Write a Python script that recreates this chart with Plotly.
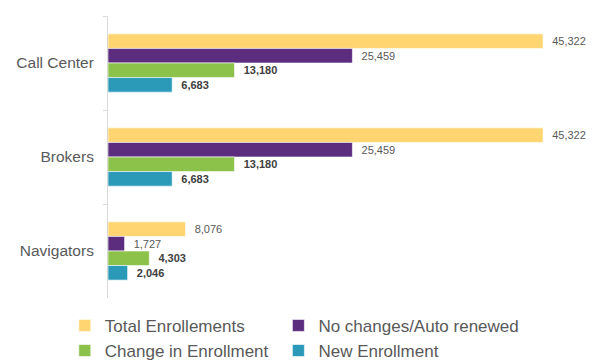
import plotly.graph_objects as go

# ── Data ─────────────────────────────────────────────
channels = ["Call Center", "Brokers", "Navigators"]
total_enrollments = [45322, 45322, 8076]
no_changes = [25459, 25459, 1727]
change_in_enrollment = [13180, 13180, 4303]
new_enrollment = [6683, 6683, 2046]

# name, values, colour, bold label, which legend column
series = [
    ("Total Enrollements", total_enrollments, "#FFD571", False, "legend"),
    ("No changes/Auto renewed", no_changes, "#5C2D7F", False, "legend2"),
    ("Change in Enrollment", change_in_enrollment, "#8CC24A", True, "legend"),
    ("New Enrollment", new_enrollment, "#2A9AB8", True, "legend2"),
]

fig = go.Figure()
for name, vals, color, bold, leg in series:
    if bold:
        labels = [f"  <b>{v:,}</b>" for v in vals]
        tcolor = "#404040"
    else:
        labels = [f"  {v:,}" for v in vals]
        tcolor = "#595959"
    fig.add_trace(go.Bar(
        name=name,
        y=channels,
        x=vals,
        orientation="h",
        marker=dict(color=color, line=dict(color="white", width=0.6)),
        text=labels,
        textposition="outside",
        textfont=dict(size=11, color=tcolor, family="Liberation Sans, Arial"),
        cliponaxis=False,
        hoverinfo="skip",
        legend=leg,
    ))

legend_style = dict(
    orientation="v",
    xanchor="left",
    y=-0.035,
    yanchor="top",
    itemwidth=30,
    font=dict(size=17, color="#595959"),
    traceorder="normal",
    bgcolor="rgba(0,0,0,0)",
)

fig.update_layout(
    width=608,
    height=361,
    barmode="group",
    bargap=0.38,
    bargroupgap=0,
    plot_bgcolor="white",
    paper_bgcolor="white",
    font=dict(family="Liberation Sans, Arial", color="#595959"),
    margin=dict(l=108, r=20, t=16, b=63, autoexpand=False),
    xaxis=dict(
        range=[0, 50000],
        visible=False,
    ),
    yaxis=dict(
        autorange="reversed",
        showline=True,
        linecolor="#D9D9D9",
        linewidth=1,
        ticks="outside",
        tickson="boundaries",
        ticklen=4,
        tickcolor="#D9D9D9",
        ticklabelstandoff=10,
        tickfont=dict(size=15.5, color="#595959"),
        showgrid=False,
        zeroline=False,
    ),
    showlegend=True,
    legend=dict(x=-0.09, **legend_style),
    legend2=dict(x=0.355, **legend_style),
)

# page body has an 8px default margin; drop it so the figure sits at 0,0
fig.write_html("out.html", config={"displayModeBar": False},
               post_script="document.body.style.margin='0';")
